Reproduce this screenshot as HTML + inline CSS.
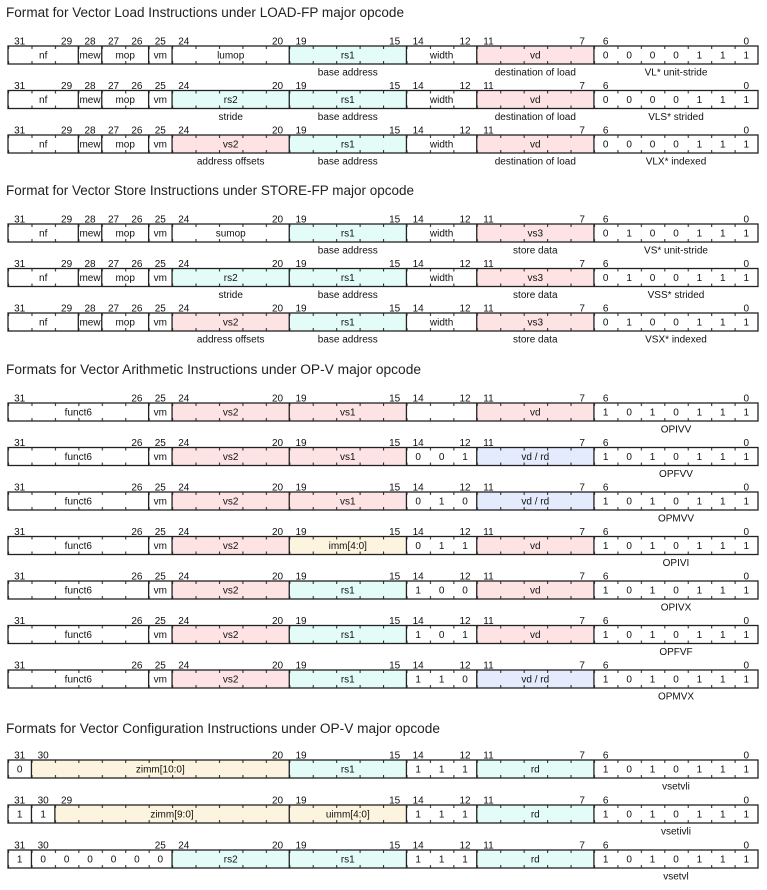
<!DOCTYPE html>
<html><head><meta charset="utf-8"><style>
html,body{margin:0;padding:0;background:#fff;width:767px;height:890px;overflow:hidden}
svg text{font-family:"Liberation Sans",sans-serif;font-size:10px;text-anchor:middle;fill:#111}
svg text.t{font-size:13.5px;text-anchor:start;fill:#222}
.b{fill:none;stroke:#222;stroke-width:1.3}
</style></head><body>
<svg width="767" height="890" xmlns="http://www.w3.org/2000/svg">
<defs>
<pattern id="tk" x="8" y="0" width="23.4375" height="18" patternUnits="userSpaceOnUse">
<rect x="0" y="0" width="1.1" height="3" fill="#333"/><rect x="0" y="15" width="1.1" height="3" fill="#333"/>
</pattern>
<g id="LF"><rect x="8" y="0" width="750" height="18" fill="url(#tk)"/><rect class="b" x="8" y="0" width="750" height="18"/><path class="b" d="M78.31 0v18M101.75 0v18M148.63 0v18M172.06 0v18M289.25 0v18M406.44 0v18M476.75 0v18M593.94 0v18"/></g>
<g id="AF"><rect x="8" y="0" width="750" height="18" fill="url(#tk)"/><rect class="b" x="8" y="0" width="750" height="18"/><path class="b" d="M148.63 0v18M172.06 0v18M289.25 0v18M406.44 0v18M476.75 0v18M593.94 0v18"/></g>
</defs>

<text class="t" x="6" y="17" textLength="398" lengthAdjust="spacingAndGlyphs">Format for Vector Load Instructions under LOAD-FP major opcode</text>
<text class="t" x="6" y="195" textLength="408" lengthAdjust="spacingAndGlyphs">Format for Vector Store Instructions under STORE-FP major opcode</text>
<text class="t" x="6" y="374" textLength="415" lengthAdjust="spacingAndGlyphs">Formats for Vector Arithmetic Instructions under OP-V major opcode</text>
<text class="t" x="6" y="733" textLength="434" lengthAdjust="spacingAndGlyphs">Formats for Vector Configuration Instructions under OP-V major opcode</text>

<!-- LOAD row 1 -->
<g transform="translate(0,46)">
<rect x="289.25" y="0" width="117.19" height="18" fill="#e3fcf8"/><rect x="476.75" y="0" width="117.19" height="18" fill="#fde3e3"/>
<use href="#LF"/>
<text y="-1.5"><tspan x="19.7">31</tspan><tspan x="66.6">29</tspan><tspan x="90">28</tspan><tspan x="113.5">27</tspan><tspan x="136.9">26</tspan><tspan x="160.3">25</tspan><tspan x="183.8">24</tspan><tspan x="277.5">20</tspan><tspan x="301">19</tspan><tspan x="394.7">15</tspan><tspan x="418.2">14</tspan><tspan x="465">12</tspan><tspan x="488.5">11</tspan><tspan x="582.2">7</tspan><tspan x="605.7">6</tspan><tspan x="746.3">0</tspan></text>
<text y="12.5"><tspan x="43.2">nf</tspan><tspan x="90">mew</tspan><tspan x="125.2">mop</tspan><tspan x="160.3">vm</tspan><tspan x="230.7">lumop</tspan><tspan x="347.8">rs1</tspan><tspan x="441.6">width</tspan><tspan x="535.3">vd</tspan><tspan x="605.7">0</tspan><tspan x="629.1">0</tspan><tspan x="652.5">0</tspan><tspan x="676">0</tspan><tspan x="699.4">1</tspan><tspan x="722.8">1</tspan><tspan x="746.3">1</tspan></text>
<text y="29.5"><tspan x="347.8">base address</tspan><tspan x="535.3">destination of load</tspan><tspan x="676">VL* unit-stride</tspan></text>
</g>
<!-- LOAD row 2 -->
<g transform="translate(0,90.5)">
<rect x="172.06" y="0" width="117.19" height="18" fill="#e3fcf8"/><rect x="289.25" y="0" width="117.19" height="18" fill="#e3fcf8"/><rect x="476.75" y="0" width="117.19" height="18" fill="#fde3e3"/>
<use href="#LF"/>
<text y="-1.5"><tspan x="19.7">31</tspan><tspan x="66.6">29</tspan><tspan x="90">28</tspan><tspan x="113.5">27</tspan><tspan x="136.9">26</tspan><tspan x="160.3">25</tspan><tspan x="183.8">24</tspan><tspan x="277.5">20</tspan><tspan x="301">19</tspan><tspan x="394.7">15</tspan><tspan x="418.2">14</tspan><tspan x="465">12</tspan><tspan x="488.5">11</tspan><tspan x="582.2">7</tspan><tspan x="605.7">6</tspan><tspan x="746.3">0</tspan></text>
<text y="12.5"><tspan x="43.2">nf</tspan><tspan x="90">mew</tspan><tspan x="125.2">mop</tspan><tspan x="160.3">vm</tspan><tspan x="230.7">rs2</tspan><tspan x="347.8">rs1</tspan><tspan x="441.6">width</tspan><tspan x="535.3">vd</tspan><tspan x="605.7">0</tspan><tspan x="629.1">0</tspan><tspan x="652.5">0</tspan><tspan x="676">0</tspan><tspan x="699.4">1</tspan><tspan x="722.8">1</tspan><tspan x="746.3">1</tspan></text>
<text y="29.5"><tspan x="230.7">stride</tspan><tspan x="347.8">base address</tspan><tspan x="535.3">destination of load</tspan><tspan x="676">VLS* strided</tspan></text>
</g>
<!-- LOAD row 3 -->
<g transform="translate(0,135)">
<rect x="172.06" y="0" width="117.19" height="18" fill="#fde3e3"/><rect x="289.25" y="0" width="117.19" height="18" fill="#e3fcf8"/><rect x="476.75" y="0" width="117.19" height="18" fill="#fde3e3"/>
<use href="#LF"/>
<text y="-1.5"><tspan x="19.7">31</tspan><tspan x="66.6">29</tspan><tspan x="90">28</tspan><tspan x="113.5">27</tspan><tspan x="136.9">26</tspan><tspan x="160.3">25</tspan><tspan x="183.8">24</tspan><tspan x="277.5">20</tspan><tspan x="301">19</tspan><tspan x="394.7">15</tspan><tspan x="418.2">14</tspan><tspan x="465">12</tspan><tspan x="488.5">11</tspan><tspan x="582.2">7</tspan><tspan x="605.7">6</tspan><tspan x="746.3">0</tspan></text>
<text y="12.5"><tspan x="43.2">nf</tspan><tspan x="90">mew</tspan><tspan x="125.2">mop</tspan><tspan x="160.3">vm</tspan><tspan x="230.7">vs2</tspan><tspan x="347.8">rs1</tspan><tspan x="441.6">width</tspan><tspan x="535.3">vd</tspan><tspan x="605.7">0</tspan><tspan x="629.1">0</tspan><tspan x="652.5">0</tspan><tspan x="676">0</tspan><tspan x="699.4">1</tspan><tspan x="722.8">1</tspan><tspan x="746.3">1</tspan></text>
<text y="29.5"><tspan x="230.7">address offsets</tspan><tspan x="347.8">base address</tspan><tspan x="535.3">destination of load</tspan><tspan x="676">VLX* indexed</tspan></text>
</g>

<!-- STORE row 1 -->
<g transform="translate(0,224)">
<rect x="289.25" y="0" width="117.19" height="18" fill="#e3fcf8"/><rect x="476.75" y="0" width="117.19" height="18" fill="#fde3e3"/>
<use href="#LF"/>
<text y="-1.5"><tspan x="19.7">31</tspan><tspan x="66.6">29</tspan><tspan x="90">28</tspan><tspan x="113.5">27</tspan><tspan x="136.9">26</tspan><tspan x="160.3">25</tspan><tspan x="183.8">24</tspan><tspan x="277.5">20</tspan><tspan x="301">19</tspan><tspan x="394.7">15</tspan><tspan x="418.2">14</tspan><tspan x="465">12</tspan><tspan x="488.5">11</tspan><tspan x="582.2">7</tspan><tspan x="605.7">6</tspan><tspan x="746.3">0</tspan></text>
<text y="12.5"><tspan x="43.2">nf</tspan><tspan x="90">mew</tspan><tspan x="125.2">mop</tspan><tspan x="160.3">vm</tspan><tspan x="230.7">sumop</tspan><tspan x="347.8">rs1</tspan><tspan x="441.6">width</tspan><tspan x="535.3">vs3</tspan><tspan x="605.7">0</tspan><tspan x="629.1">1</tspan><tspan x="652.5">0</tspan><tspan x="676">0</tspan><tspan x="699.4">1</tspan><tspan x="722.8">1</tspan><tspan x="746.3">1</tspan></text>
<text y="29.5"><tspan x="347.8">base address</tspan><tspan x="535.3">store data</tspan><tspan x="676">VS* unit-stride</tspan></text>
</g>
<!-- STORE row 2 -->
<g transform="translate(0,268.5)">
<rect x="172.06" y="0" width="117.19" height="18" fill="#e3fcf8"/><rect x="289.25" y="0" width="117.19" height="18" fill="#e3fcf8"/><rect x="476.75" y="0" width="117.19" height="18" fill="#fde3e3"/>
<use href="#LF"/>
<text y="-1.5"><tspan x="19.7">31</tspan><tspan x="66.6">29</tspan><tspan x="90">28</tspan><tspan x="113.5">27</tspan><tspan x="136.9">26</tspan><tspan x="160.3">25</tspan><tspan x="183.8">24</tspan><tspan x="277.5">20</tspan><tspan x="301">19</tspan><tspan x="394.7">15</tspan><tspan x="418.2">14</tspan><tspan x="465">12</tspan><tspan x="488.5">11</tspan><tspan x="582.2">7</tspan><tspan x="605.7">6</tspan><tspan x="746.3">0</tspan></text>
<text y="12.5"><tspan x="43.2">nf</tspan><tspan x="90">mew</tspan><tspan x="125.2">mop</tspan><tspan x="160.3">vm</tspan><tspan x="230.7">rs2</tspan><tspan x="347.8">rs1</tspan><tspan x="441.6">width</tspan><tspan x="535.3">vs3</tspan><tspan x="605.7">0</tspan><tspan x="629.1">1</tspan><tspan x="652.5">0</tspan><tspan x="676">0</tspan><tspan x="699.4">1</tspan><tspan x="722.8">1</tspan><tspan x="746.3">1</tspan></text>
<text y="29.5"><tspan x="230.7">stride</tspan><tspan x="347.8">base address</tspan><tspan x="535.3">store data</tspan><tspan x="676">VSS* strided</tspan></text>
</g>
<!-- STORE row 3 -->
<g transform="translate(0,313)">
<rect x="172.06" y="0" width="117.19" height="18" fill="#fde3e3"/><rect x="289.25" y="0" width="117.19" height="18" fill="#e3fcf8"/><rect x="476.75" y="0" width="117.19" height="18" fill="#fde3e3"/>
<use href="#LF"/>
<text y="-1.5"><tspan x="19.7">31</tspan><tspan x="66.6">29</tspan><tspan x="90">28</tspan><tspan x="113.5">27</tspan><tspan x="136.9">26</tspan><tspan x="160.3">25</tspan><tspan x="183.8">24</tspan><tspan x="277.5">20</tspan><tspan x="301">19</tspan><tspan x="394.7">15</tspan><tspan x="418.2">14</tspan><tspan x="465">12</tspan><tspan x="488.5">11</tspan><tspan x="582.2">7</tspan><tspan x="605.7">6</tspan><tspan x="746.3">0</tspan></text>
<text y="12.5"><tspan x="43.2">nf</tspan><tspan x="90">mew</tspan><tspan x="125.2">mop</tspan><tspan x="160.3">vm</tspan><tspan x="230.7">vs2</tspan><tspan x="347.8">rs1</tspan><tspan x="441.6">width</tspan><tspan x="535.3">vs3</tspan><tspan x="605.7">0</tspan><tspan x="629.1">1</tspan><tspan x="652.5">0</tspan><tspan x="676">0</tspan><tspan x="699.4">1</tspan><tspan x="722.8">1</tspan><tspan x="746.3">1</tspan></text>
<text y="29.5"><tspan x="230.7">address offsets</tspan><tspan x="347.8">base address</tspan><tspan x="535.3">store data</tspan><tspan x="676">VSX* indexed</tspan></text>
</g>

<!-- ARITH rows -->
<g transform="translate(0,403)">
<rect x="172.06" y="0" width="117.19" height="18" fill="#fde3e3"/><rect x="289.25" y="0" width="117.19" height="18" fill="#fde3e3"/><rect x="476.75" y="0" width="117.19" height="18" fill="#fde3e3"/>
<use href="#AF"/>
<text y="-1.5"><tspan x="19.7">31</tspan><tspan x="136.9">26</tspan><tspan x="160.3">25</tspan><tspan x="183.8">24</tspan><tspan x="277.5">20</tspan><tspan x="301">19</tspan><tspan x="394.7">15</tspan><tspan x="418.2">14</tspan><tspan x="465">12</tspan><tspan x="488.5">11</tspan><tspan x="582.2">7</tspan><tspan x="605.7">6</tspan><tspan x="746.3">0</tspan></text>
<text y="12.5"><tspan x="78.3">funct6</tspan><tspan x="160.3">vm</tspan><tspan x="230.7">vs2</tspan><tspan x="347.8">vs1</tspan><tspan x="535.3">vd</tspan><tspan x="605.7">1</tspan><tspan x="629.1">0</tspan><tspan x="652.5">1</tspan><tspan x="676">0</tspan><tspan x="699.4">1</tspan><tspan x="722.8">1</tspan><tspan x="746.3">1</tspan></text>
<text y="29.5" x="676">OPIVV</text>
</g>
<g transform="translate(0,447.5)">
<rect x="172.06" y="0" width="117.19" height="18" fill="#fde3e3"/><rect x="289.25" y="0" width="117.19" height="18" fill="#fde3e3"/><rect x="476.75" y="0" width="117.19" height="18" fill="#e3ebfc"/>
<use href="#AF"/>
<text y="-1.5"><tspan x="19.7">31</tspan><tspan x="136.9">26</tspan><tspan x="160.3">25</tspan><tspan x="183.8">24</tspan><tspan x="277.5">20</tspan><tspan x="301">19</tspan><tspan x="394.7">15</tspan><tspan x="418.2">14</tspan><tspan x="465">12</tspan><tspan x="488.5">11</tspan><tspan x="582.2">7</tspan><tspan x="605.7">6</tspan><tspan x="746.3">0</tspan></text>
<text y="12.5"><tspan x="78.3">funct6</tspan><tspan x="160.3">vm</tspan><tspan x="230.7">vs2</tspan><tspan x="347.8">vs1</tspan><tspan x="418.2">0</tspan><tspan x="441.6">0</tspan><tspan x="465">1</tspan><tspan x="535.3">vd / rd</tspan><tspan x="605.7">1</tspan><tspan x="629.1">0</tspan><tspan x="652.5">1</tspan><tspan x="676">0</tspan><tspan x="699.4">1</tspan><tspan x="722.8">1</tspan><tspan x="746.3">1</tspan></text>
<text y="29.5" x="676">OPFVV</text>
</g>
<g transform="translate(0,492)">
<rect x="172.06" y="0" width="117.19" height="18" fill="#fde3e3"/><rect x="289.25" y="0" width="117.19" height="18" fill="#fde3e3"/><rect x="476.75" y="0" width="117.19" height="18" fill="#e3ebfc"/>
<use href="#AF"/>
<text y="-1.5"><tspan x="19.7">31</tspan><tspan x="136.9">26</tspan><tspan x="160.3">25</tspan><tspan x="183.8">24</tspan><tspan x="277.5">20</tspan><tspan x="301">19</tspan><tspan x="394.7">15</tspan><tspan x="418.2">14</tspan><tspan x="465">12</tspan><tspan x="488.5">11</tspan><tspan x="582.2">7</tspan><tspan x="605.7">6</tspan><tspan x="746.3">0</tspan></text>
<text y="12.5"><tspan x="78.3">funct6</tspan><tspan x="160.3">vm</tspan><tspan x="230.7">vs2</tspan><tspan x="347.8">vs1</tspan><tspan x="418.2">0</tspan><tspan x="441.6">1</tspan><tspan x="465">0</tspan><tspan x="535.3">vd / rd</tspan><tspan x="605.7">1</tspan><tspan x="629.1">0</tspan><tspan x="652.5">1</tspan><tspan x="676">0</tspan><tspan x="699.4">1</tspan><tspan x="722.8">1</tspan><tspan x="746.3">1</tspan></text>
<text y="29.5" x="676">OPMVV</text>
</g>
<g transform="translate(0,536.5)">
<rect x="172.06" y="0" width="117.19" height="18" fill="#fde3e3"/><rect x="289.25" y="0" width="117.19" height="18" fill="#fdf4df"/><rect x="476.75" y="0" width="117.19" height="18" fill="#fde3e3"/>
<use href="#AF"/>
<text y="-1.5"><tspan x="19.7">31</tspan><tspan x="136.9">26</tspan><tspan x="160.3">25</tspan><tspan x="183.8">24</tspan><tspan x="277.5">20</tspan><tspan x="301">19</tspan><tspan x="394.7">15</tspan><tspan x="418.2">14</tspan><tspan x="465">12</tspan><tspan x="488.5">11</tspan><tspan x="582.2">7</tspan><tspan x="605.7">6</tspan><tspan x="746.3">0</tspan></text>
<text y="12.5"><tspan x="78.3">funct6</tspan><tspan x="160.3">vm</tspan><tspan x="230.7">vs2</tspan><tspan x="347.8">imm[4:0]</tspan><tspan x="418.2">0</tspan><tspan x="441.6">1</tspan><tspan x="465">1</tspan><tspan x="535.3">vd</tspan><tspan x="605.7">1</tspan><tspan x="629.1">0</tspan><tspan x="652.5">1</tspan><tspan x="676">0</tspan><tspan x="699.4">1</tspan><tspan x="722.8">1</tspan><tspan x="746.3">1</tspan></text>
<text y="29.5" x="676">OPIVI</text>
</g>
<g transform="translate(0,581)">
<rect x="172.06" y="0" width="117.19" height="18" fill="#fde3e3"/><rect x="289.25" y="0" width="117.19" height="18" fill="#e3fcf8"/><rect x="476.75" y="0" width="117.19" height="18" fill="#fde3e3"/>
<use href="#AF"/>
<text y="-1.5"><tspan x="19.7">31</tspan><tspan x="136.9">26</tspan><tspan x="160.3">25</tspan><tspan x="183.8">24</tspan><tspan x="277.5">20</tspan><tspan x="301">19</tspan><tspan x="394.7">15</tspan><tspan x="418.2">14</tspan><tspan x="465">12</tspan><tspan x="488.5">11</tspan><tspan x="582.2">7</tspan><tspan x="605.7">6</tspan><tspan x="746.3">0</tspan></text>
<text y="12.5"><tspan x="78.3">funct6</tspan><tspan x="160.3">vm</tspan><tspan x="230.7">vs2</tspan><tspan x="347.8">rs1</tspan><tspan x="418.2">1</tspan><tspan x="441.6">0</tspan><tspan x="465">0</tspan><tspan x="535.3">vd</tspan><tspan x="605.7">1</tspan><tspan x="629.1">0</tspan><tspan x="652.5">1</tspan><tspan x="676">0</tspan><tspan x="699.4">1</tspan><tspan x="722.8">1</tspan><tspan x="746.3">1</tspan></text>
<text y="29.5" x="676">OPIVX</text>
</g>
<g transform="translate(0,625.5)">
<rect x="172.06" y="0" width="117.19" height="18" fill="#fde3e3"/><rect x="289.25" y="0" width="117.19" height="18" fill="#e3fcf8"/><rect x="476.75" y="0" width="117.19" height="18" fill="#fde3e3"/>
<use href="#AF"/>
<text y="-1.5"><tspan x="19.7">31</tspan><tspan x="136.9">26</tspan><tspan x="160.3">25</tspan><tspan x="183.8">24</tspan><tspan x="277.5">20</tspan><tspan x="301">19</tspan><tspan x="394.7">15</tspan><tspan x="418.2">14</tspan><tspan x="465">12</tspan><tspan x="488.5">11</tspan><tspan x="582.2">7</tspan><tspan x="605.7">6</tspan><tspan x="746.3">0</tspan></text>
<text y="12.5"><tspan x="78.3">funct6</tspan><tspan x="160.3">vm</tspan><tspan x="230.7">vs2</tspan><tspan x="347.8">rs1</tspan><tspan x="418.2">1</tspan><tspan x="441.6">0</tspan><tspan x="465">1</tspan><tspan x="535.3">vd</tspan><tspan x="605.7">1</tspan><tspan x="629.1">0</tspan><tspan x="652.5">1</tspan><tspan x="676">0</tspan><tspan x="699.4">1</tspan><tspan x="722.8">1</tspan><tspan x="746.3">1</tspan></text>
<text y="29.5" x="676">OPFVF</text>
</g>
<g transform="translate(0,670)">
<rect x="172.06" y="0" width="117.19" height="18" fill="#fde3e3"/><rect x="289.25" y="0" width="117.19" height="18" fill="#e3fcf8"/><rect x="476.75" y="0" width="117.19" height="18" fill="#e3ebfc"/>
<use href="#AF"/>
<text y="-1.5"><tspan x="19.7">31</tspan><tspan x="136.9">26</tspan><tspan x="160.3">25</tspan><tspan x="183.8">24</tspan><tspan x="277.5">20</tspan><tspan x="301">19</tspan><tspan x="394.7">15</tspan><tspan x="418.2">14</tspan><tspan x="465">12</tspan><tspan x="488.5">11</tspan><tspan x="582.2">7</tspan><tspan x="605.7">6</tspan><tspan x="746.3">0</tspan></text>
<text y="12.5"><tspan x="78.3">funct6</tspan><tspan x="160.3">vm</tspan><tspan x="230.7">vs2</tspan><tspan x="347.8">rs1</tspan><tspan x="418.2">1</tspan><tspan x="441.6">1</tspan><tspan x="465">0</tspan><tspan x="535.3">vd / rd</tspan><tspan x="605.7">1</tspan><tspan x="629.1">0</tspan><tspan x="652.5">1</tspan><tspan x="676">0</tspan><tspan x="699.4">1</tspan><tspan x="722.8">1</tspan><tspan x="746.3">1</tspan></text>
<text y="29.5" x="676">OPMVX</text>
</g>

<!-- CONFIG rows -->
<g transform="translate(0,760)">
<rect x="31.44" y="0" width="257.81" height="18" fill="#fdf4df"/><rect x="289.25" y="0" width="117.19" height="18" fill="#e3fcf8"/><rect x="476.75" y="0" width="117.19" height="18" fill="#e3fcf8"/>
<rect x="8" y="0" width="750" height="18" fill="url(#tk)"/><rect class="b" x="8" y="0" width="750" height="18"/>
<path class="b" d="M31.44 0v18M289.25 0v18M406.44 0v18M476.75 0v18M593.94 0v18"/>
<text y="-1.5"><tspan x="19.7">31</tspan><tspan x="43.2">30</tspan><tspan x="277.5">20</tspan><tspan x="301">19</tspan><tspan x="394.7">15</tspan><tspan x="418.2">14</tspan><tspan x="465">12</tspan><tspan x="488.5">11</tspan><tspan x="582.2">7</tspan><tspan x="605.7">6</tspan><tspan x="746.3">0</tspan></text>
<text y="12.5"><tspan x="19.7">0</tspan><tspan x="160.3">zimm[10:0]</tspan><tspan x="347.8">rs1</tspan><tspan x="418.2">1</tspan><tspan x="441.6">1</tspan><tspan x="465">1</tspan><tspan x="535.3">rd</tspan><tspan x="605.7">1</tspan><tspan x="629.1">0</tspan><tspan x="652.5">1</tspan><tspan x="676">0</tspan><tspan x="699.4">1</tspan><tspan x="722.8">1</tspan><tspan x="746.3">1</tspan></text>
<text y="29.5" x="676">vsetvli</text>
</g>
<g transform="translate(0,805)">
<rect x="54.88" y="0" width="234.37" height="18" fill="#fdf4df"/><rect x="289.25" y="0" width="117.19" height="18" fill="#fdf4df"/><rect x="476.75" y="0" width="117.19" height="18" fill="#e3fcf8"/>
<rect x="8" y="0" width="750" height="18" fill="url(#tk)"/><rect class="b" x="8" y="0" width="750" height="18"/>
<path class="b" d="M31.44 0v18M54.88 0v18M289.25 0v18M406.44 0v18M476.75 0v18M593.94 0v18"/>
<text y="-1.5"><tspan x="19.7">31</tspan><tspan x="43.2">30</tspan><tspan x="66.6">29</tspan><tspan x="277.5">20</tspan><tspan x="301">19</tspan><tspan x="394.7">15</tspan><tspan x="418.2">14</tspan><tspan x="465">12</tspan><tspan x="488.5">11</tspan><tspan x="582.2">7</tspan><tspan x="605.7">6</tspan><tspan x="746.3">0</tspan></text>
<text y="12.5"><tspan x="19.7">1</tspan><tspan x="43.2">1</tspan><tspan x="172">zimm[9:0]</tspan><tspan x="347.8">uimm[4:0]</tspan><tspan x="418.2">1</tspan><tspan x="441.6">1</tspan><tspan x="465">1</tspan><tspan x="535.3">rd</tspan><tspan x="605.7">1</tspan><tspan x="629.1">0</tspan><tspan x="652.5">1</tspan><tspan x="676">0</tspan><tspan x="699.4">1</tspan><tspan x="722.8">1</tspan><tspan x="746.3">1</tspan></text>
<text y="29.5" x="676">vsetivli</text>
</g>
<g transform="translate(0,850)">
<rect x="172.06" y="0" width="117.19" height="18" fill="#e3fcf8"/><rect x="289.25" y="0" width="117.19" height="18" fill="#e3fcf8"/><rect x="476.75" y="0" width="117.19" height="18" fill="#e3fcf8"/>
<rect x="8" y="0" width="750" height="18" fill="url(#tk)"/><rect class="b" x="8" y="0" width="750" height="18"/>
<path class="b" d="M31.44 0v18M172.06 0v18M289.25 0v18M406.44 0v18M476.75 0v18M593.94 0v18"/>
<text y="-1.5"><tspan x="19.7">31</tspan><tspan x="43.2">30</tspan><tspan x="160.3">25</tspan><tspan x="183.8">24</tspan><tspan x="277.5">20</tspan><tspan x="301">19</tspan><tspan x="394.7">15</tspan><tspan x="418.2">14</tspan><tspan x="465">12</tspan><tspan x="488.5">11</tspan><tspan x="582.2">7</tspan><tspan x="605.7">6</tspan><tspan x="746.3">0</tspan></text>
<text y="12.5"><tspan x="19.7">1</tspan><tspan x="43.2">0</tspan><tspan x="66.6">0</tspan><tspan x="90">0</tspan><tspan x="113.5">0</tspan><tspan x="136.9">0</tspan><tspan x="160.3">0</tspan><tspan x="230.7">rs2</tspan><tspan x="347.8">rs1</tspan><tspan x="418.2">1</tspan><tspan x="441.6">1</tspan><tspan x="465">1</tspan><tspan x="535.3">rd</tspan><tspan x="605.7">1</tspan><tspan x="629.1">0</tspan><tspan x="652.5">1</tspan><tspan x="676">0</tspan><tspan x="699.4">1</tspan><tspan x="722.8">1</tspan><tspan x="746.3">1</tspan></text>
<text y="29.5" x="676">vsetvl</text>
</g>
</svg>
</body></html>
